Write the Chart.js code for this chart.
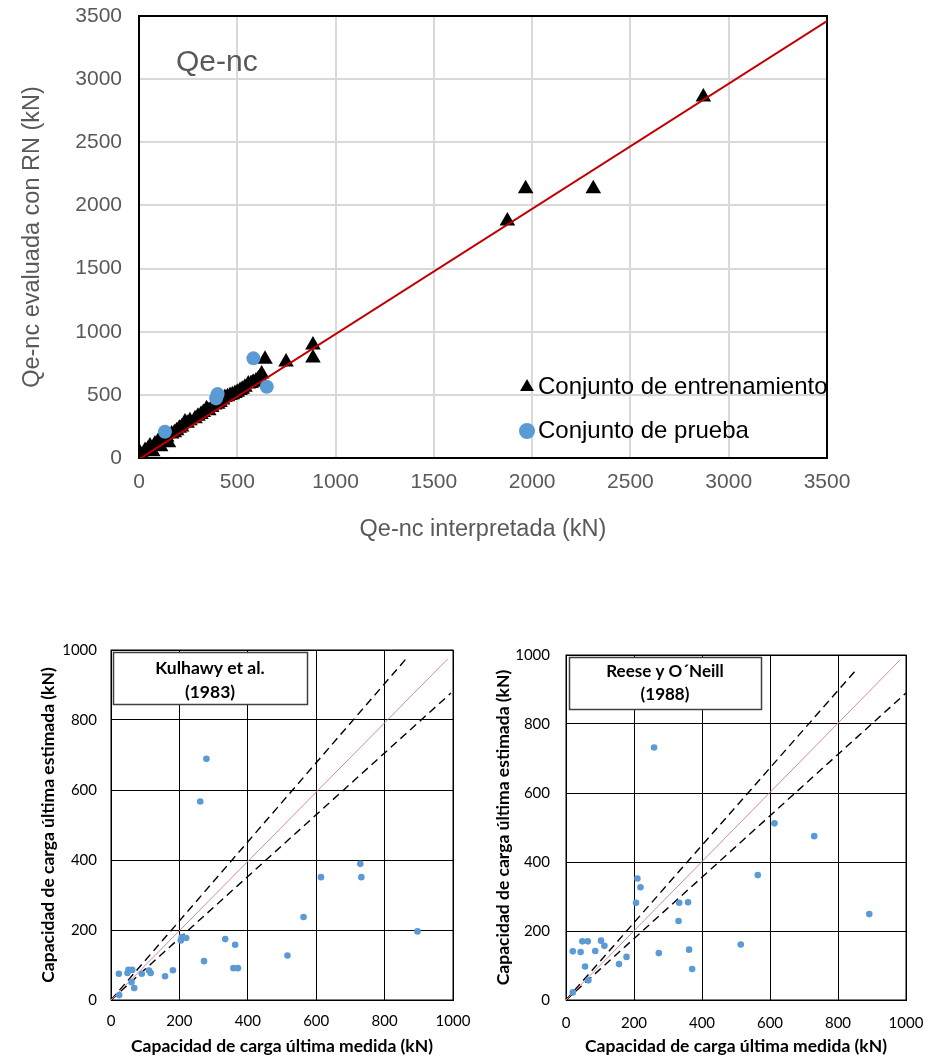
<!DOCTYPE html>
<html>
<head>
<meta charset="utf-8">
<script src="https://cdn.jsdelivr.net/npm/chart.js@4.4.0/dist/chart.umd.min.js"></script>
<style>
    html, body { margin: 0; padding: 0; background: #fff; }
    body { width: 926px; height: 1061px; position: relative; overflow: hidden; }
    canvas { position: absolute; }
    #topChart { left: 0; top: 0; }
    #leftChart { left: 0; top: 600px; }
    #rightChart { left: 470px; top: 600px; }
</style>
</head>
<body>
<canvas id="topChart" width="926" height="550"></canvas>
<canvas id="leftChart" width="490" height="461"></canvas>
<canvas id="rightChart" width="456" height="461"></canvas>

<script>
// ---- Top chart data: Qe-nc (kN) ----
const trainX = [5, 20, 31, 45, 56, 70, 81, 98, 110, 124, 130, 141, 150, 166, 180, 192, 205, 217, 234, 245,
                259, 285, 300, 315, 327, 344, 355, 370, 385, 400, 412, 425, 437, 450, 463, 475, 488, 500,
                514, 525, 539, 556, 570, 581, 595, 607, 615, 624, 641, 748, 885, 885, 1874, 1967, 2311, 2871];
const trainY = [40, 15, 60, 70, 95, 50, 110, 135, 90, 140, 150, 165, 120, 190, 200, 215, 235, 245, 285, 275,
                295, 310, 330, 345, 360, 390, 375, 400, 420, 425, 440, 460, 480, 485, 495, 500, 510, 520,
                535, 545, 560, 585, 590, 600, 610, 625, 640, 665, 781, 760, 894, 791, 1877, 2133, 2133, 2858];
const testX = [132, 392, 400, 582, 650];
const testY = [208, 472, 506, 789, 564];
const fitX = [0, 3500];
const fitY = [-10, 3460];
const topTicks = [0, 500, 1000, 1500, 2000, 2500, 3000, 3500];

// ---- Bottom charts data: capacidad de carga (kN) ----
const kulhawyX = [24, 23, 51, 48, 62, 60, 68, 90, 111, 116, 158, 181, 204, 207, 220, 272, 334, 363, 358, 371,
                  516, 563, 614, 729, 732, 896, 279, 261];
const kulhawyY = [14, 75, 86, 77, 86, 51, 34, 75, 84, 77, 68, 85, 170, 180, 177, 111, 174, 158, 91, 91,
                  127, 237, 351, 389, 351, 196, 689, 567];
const reeseX = [20, 20, 43, 48, 64, 56, 66, 86, 103, 113, 156, 178, 206, 210, 219, 273, 331, 333, 359, 362,
                371, 514, 564, 730, 892, 259, 613];
const reeseY = [22, 141, 139, 170, 170, 97, 57, 142, 172, 157, 104, 125, 282, 352, 327, 136, 229, 282, 283, 146,
                90, 161, 362, 475, 249, 732, 512];

// reference lines (1:1 and the two dashed bounds)
const leftIdealX = [0, 985], leftIdealY = [0, 975];
const leftUpperX = [0, 862], leftUpperY = [0, 974];
const leftLowerX = [0, 994], leftLowerY = [0, 877];
const rightIdealX = [0, 982], rightIdealY = [0, 985];
const rightUpperX = [0, 858], rightUpperY = [0, 962];
const rightLowerX = [0, 1000], rightLowerY = [0, 890];
const bottomTicks = [0, 200, 400, 600, 800, 1000];

const zip = (xs, ys) => xs.map((x, i) => ({ x: x, y: ys[i] }));

// keep the plot area exactly where layout.padding + afterFit put it
function fixedAxis(size, horizontal) {
    return s => {
        if (horizontal) s.height = size; else s.width = size;
        s.paddingTop = 0;
        s.paddingBottom = 0;
        s.paddingLeft = 0;
        s.paddingRight = 0;
    };
}

// Black frame around the plot area
const plotFrame = {
    id: 'plotFrame',
    beforeDatasetsDraw(chart, args, opts) {
        const a = chart.chartArea;
        const ctx = chart.ctx;
        ctx.save();
        ctx.strokeStyle = opts.color || '#000';
        ctx.lineWidth = opts.width || 1;
        ctx.strokeRect(a.left, a.top, a.right - a.left, a.bottom - a.top);
        ctx.restore();
    }
};

// Text notes (optionally boxed), positions in canvas pixels
const notes = {
    id: 'notes',
    afterDraw(chart, args, opts) {
        const ctx = chart.ctx;
        (opts.items || []).forEach(item => {
            ctx.save();
            if (item.box) {
                ctx.fillStyle = '#fff';
                ctx.fillRect(item.box.x, item.box.y, item.box.w, item.box.h);
                ctx.strokeStyle = item.box.color;
                ctx.lineWidth = item.box.width;
                ctx.strokeRect(item.box.x, item.box.y, item.box.w, item.box.h);
            }
            ctx.font = item.font;
            ctx.fillStyle = item.color;
            ctx.textAlign = item.align || 'center';
            ctx.textBaseline = 'middle';
            item.lines.forEach((t, i) => ctx.fillText(t, item.x, item.y + i * (item.gap || 0)));
            ctx.restore();
        });
    }
};

// Legend drawn inside the plot area
const innerLegend = {
    id: 'innerLegend',
    afterDraw(chart, args, opts) {
        if (!opts.x) return;
        const ctx = chart.ctx;
        let y = opts.y;
        chart.data.datasets.forEach(ds => {
            if (!ds.inLegend) return;
            ctx.save();
            ctx.fillStyle = ds.backgroundColor;
            ctx.strokeStyle = ds.backgroundColor;
            Chart.helpers.drawPoint(ctx, { pointStyle: ds.pointStyle, radius: opts.markerRadius, rotation: 0, borderWidth: 0 }, opts.x, y);
            ctx.font = opts.font;
            ctx.fillStyle = opts.color;
            ctx.textAlign = 'left';
            ctx.textBaseline = 'middle';
            ctx.fillText(ds.label, opts.x + opts.textGap, y);
            ctx.restore();
            y += opts.rowGap;
        });
    }
};

Chart.register(plotFrame, notes, innerLegend);

function initTopChart() {
    const gray = '#595959';
    const tickFont = { family: 'Liberation Sans, Arial, sans-serif', size: 21 };
    const titleFont = { family: 'Liberation Sans, Arial, sans-serif', size: 23.5 };

    new Chart(document.getElementById('topChart'), {
        type: 'scatter',
        data: {
            datasets: [
                {
                    label: 'Conjunto de entrenamiento',
                    inLegend: true,
                    data: zip(trainX, trainY),
                    pointStyle: 'triangle',
                    pointRadius: 9,
                    backgroundColor: '#000',
                    borderColor: '#000',
                    borderWidth: 0,
                    order: 3
                },
                {
                    label: 'Conjunto de prueba',
                    inLegend: true,
                    data: zip(testX, testY),
                    pointStyle: 'circle',
                    pointRadius: 7,
                    backgroundColor: '#5b9bd5',
                    borderWidth: 0,
                    order: 1
                },
                {
                    label: 'Ajuste',
                    type: 'line',
                    data: zip(fitX, fitY),
                    borderColor: '#c00000',
                    borderWidth: 2,
                    pointRadius: 0,
                    fill: false,
                    order: 2
                }
            ]
        },
        options: {
            responsive: false,
            animation: false,
            layout: { padding: { top: 16, right: 99, left: 0, bottom: 0 } },
            scales: {
                x: {
                    type: 'linear',
                    min: 0,
                    max: 3500,
                    afterFit: fixedAxis(92, true),
                    afterBuildTicks: s => { s.ticks = topTicks.map(v => ({ value: v })); },
                    grid: { color: '#d9d9d9', lineWidth: 2, drawTicks: false },
                    border: { display: false },
                    ticks: { color: gray, font: tickFont, padding: 12, maxRotation: 0, callback: v => String(v) },
                    title: { display: true, text: 'Qe-nc interpretada (kN)', color: gray, font: titleFont, padding: { top: 0, bottom: 6 } }
                },
                y: {
                    type: 'linear',
                    min: 0,
                    max: 3500,
                    afterFit: fixedAxis(139, false),
                    afterBuildTicks: s => { s.ticks = topTicks.map(v => ({ value: v })); },
                    grid: { color: '#d9d9d9', lineWidth: 2, drawTicks: false },
                    border: { display: false },
                    ticks: { color: gray, font: tickFont, padding: 17, callback: v => String(v) },
                    title: { display: true, text: 'Qe-nc evaluada con RN (kN)', color: gray, font: titleFont, padding: { top: 18, bottom: 0 } }
                }
            },
            plugins: {
                legend: { display: false },
                tooltip: { enabled: false },
                plotFrame: { color: '#000', width: 2 },
                notes: {
                    items: [
                        { lines: ['Qe-nc'], x: 176, y: 63, align: 'left', font: '30px "Liberation Sans", Arial, sans-serif', color: gray }
                    ]
                },
                innerLegend: {
                    x: 527, y: 387, rowGap: 44, textGap: 11, markerRadius: 8,
                    font: '24px "Liberation Sans", Arial, sans-serif', color: '#000'
                }
            }
        }
    });
}

function initBottomChart(canvasId, xs, ys, lines, layout, note) {
    const tickFont = { family: 'Lato, "Liberation Sans", sans-serif', size: 15 };
    const titleFont = { family: 'Lato, "Liberation Sans", sans-serif', size: 17.5, weight: 'bold' };
    const lineDs = (lx, ly, color, width, dash) => ({
        type: 'line',
        data: zip(lx, ly),
        borderColor: color,
        borderWidth: width,
        borderDash: dash,
        pointRadius: 0,
        fill: false,
        order: 2
    });

    new Chart(document.getElementById(canvasId), {
        type: 'scatter',
        data: {
            datasets: [
                {
                    label: 'Datos',
                    data: zip(xs, ys),
                    pointStyle: 'circle',
                    pointRadius: 3.3,
                    backgroundColor: '#5b9bd5',
                    borderWidth: 0,
                    order: 1
                },
                lineDs(lines.ideal[0], lines.ideal[1], '#d68aa0', 1, []),
                lineDs(lines.upper[0], lines.upper[1], '#000', 1.4, [8, 5]),
                lineDs(lines.lower[0], lines.lower[1], '#000', 1.4, [8, 5])
            ]
        },
        options: {
            responsive: false,
            animation: false,
            layout: { padding: { top: layout.top, right: layout.right, left: 0, bottom: 0 } },
            scales: {
                x: {
                    type: 'linear',
                    min: 0,
                    max: 1000,
                    afterFit: fixedAxis(layout.xHeight, true),
                    afterBuildTicks: s => { s.ticks = bottomTicks.map(v => ({ value: v })); },
                    grid: { color: '#000', lineWidth: 1, drawTicks: false },
                    border: { color: '#000', width: 1 },
                    ticks: { color: '#000', font: tickFont, padding: layout.xPad, maxRotation: 0, callback: v => String(v) },
                    title: { display: true, text: 'Capacidad de carga última medida (kN)', color: '#000', font: titleFont, padding: { top: 0, bottom: 4 } }
                },
                y: {
                    type: 'linear',
                    min: 0,
                    max: 1000,
                    afterFit: fixedAxis(layout.yWidth, false),
                    afterBuildTicks: s => { s.ticks = bottomTicks.map(v => ({ value: v })); },
                    grid: { color: '#000', lineWidth: 1, drawTicks: false },
                    border: { color: '#000', width: 1 },
                    ticks: { color: '#000', font: tickFont, padding: layout.yPad, callback: v => String(v) },
                    title: { display: true, text: 'Capacidad de carga última estimada (kN)', color: '#000', font: titleFont, padding: { top: layout.yTitle, bottom: 0 } }
                }
            },
            plugins: {
                legend: { display: false },
                tooltip: { enabled: false },
                notes: { items: [note] }
            }
        }
    });
}

initTopChart();

initBottomChart('leftChart', kulhawyX, kulhawyY,
    { ideal: [leftIdealX, leftIdealY], upper: [leftUpperX, leftUpperY], lower: [leftLowerX, leftLowerY] },
    { top: 50, right: 37, xHeight: 61, yWidth: 111, xPad: 12, yPad: 14, yTitle: 38 },
    {
        lines: ['Kulhawy et al.', '(1983)'], x: 210, y: 68, gap: 24, color: '#000',
        font: 'bold 17.5px Lato, "Liberation Sans", sans-serif',
        box: { x: 113.5, y: 52.5, w: 194, h: 52, color: '#404040', width: 1.5 }
    });

initBottomChart('rightChart', reeseX, reeseY,
    { ideal: [rightIdealX, rightIdealY], upper: [rightUpperX, rightUpperY], lower: [rightLowerX, rightLowerY] },
    { top: 55, right: 20, xHeight: 61, yWidth: 96, xPad: 14, yPad: 16, yTitle: 23 },
    {
        lines: ['Reese y O\u00b4Neill', '(1988)'], x: 195, y: 72, gap: 23, color: '#000',
        font: 'bold 17px Lato, "Liberation Sans", sans-serif',
        box: { x: 99.5, y: 57.5, w: 192, h: 52, color: '#404040', width: 1.5 }
    });
</script>
</body>
</html>
